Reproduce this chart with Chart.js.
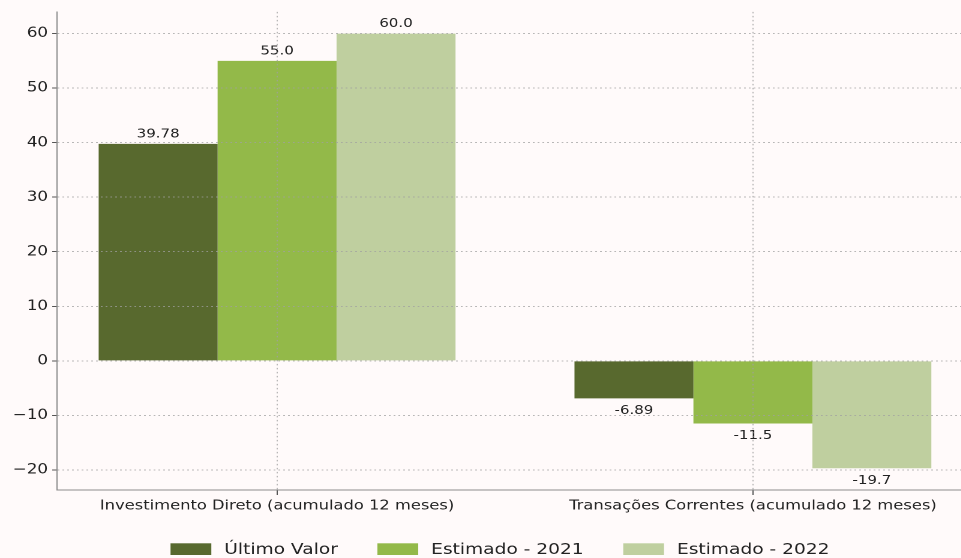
<!DOCTYPE html>
<html>
<head>
<meta charset="utf-8">
<script src="https://cdn.jsdelivr.net/npm/chart.js@4.4.0/dist/chart.umd.min.js"></script>
<style>
  html, body { margin: 0; padding: 0; background: #fffafa; overflow: hidden; }
  /* the reference is stretched horizontally, so the whole chart is too */
  #wrap { position: absolute; left: 0; top: 0; width: 833.33px; height: 558px; transform: scaleX(1.2); transform-origin: 0 0; }
</style>
</head>
<body>
<div id="wrap"><canvas id="chart"></canvas></div>
<script>
const CATEGORIES = ["Investimento Direto (acumulado 12 meses)", "Transações Correntes (acumulado 12 meses)"];
const SERIES_NAMES = ["Último Valor", "Estimado - 2021", "Estimado - 2022"];
const ULTIMO_VALOR = [39.78, -6.89];
const ESTIMADO_2021 = [55.0, -11.5];
const ESTIMADO_2022 = [60.0, -19.7];
const Y_TICKS = [-20, -10, 0, 10, 20, 30, 40, 50, 60];

const COLORS = ["#58692e", "#93b949", "#bfcf9f"];
const FONT = '"DejaVu Sans", sans-serif';
const TEXT = "#222222";

const fmt = (v) => (Number.isInteger(v) ? v.toFixed(1) : String(v));

const valueLabels = {
    id: "valueLabels",
    afterDatasetsDraw(chart) {
        const ctx = chart.ctx;
        ctx.save();
        ctx.font = `12.5px ${FONT}`;
        ctx.fillStyle = TEXT;
        ctx.textAlign = "center";
        ctx.textBaseline = "alphabetic";
        chart.data.datasets.forEach((ds, i) => {
            chart.getDatasetMeta(i).data.forEach((bar, j) => {
                const v = ds.data[j].y;
                const y = v >= 0 ? bar.y - 6.5 : bar.y + 15.5;
                ctx.fillText(fmt(v), bar.x, y);
            });
        });
        ctx.restore();
    },
};

const bottomLegend = {
    id: "bottomLegend",
    afterDraw(chart) {
        const ctx = chart.ctx;
        const boxW = 34, boxH = 11.7, gap = 10.8, colGap = 33;
        ctx.save();
        ctx.font = `15.5px ${FONT}`;
        const items = chart.data.datasets.map((ds) => ({
            text: ds.label,
            color: ds.backgroundColor,
            w: ctx.measureText(ds.label).width,
        }));
        const total = items.reduce((s, it) => s + boxW + gap + it.w, 0) + colGap * (items.length - 1);
        let x = chart.width / 2 - total / 2;
        ctx.textBaseline = "alphabetic";
        items.forEach((it) => {
            ctx.fillStyle = it.color;
            ctx.fillRect(x, 543.3, boxW, boxH);
            ctx.fillStyle = TEXT;
            ctx.fillText(it.text, x + boxW + gap, 554);
            x += boxW + gap + it.w + colGap;
        });
        ctx.restore();
    },
};

const toPoints = (values) => values.map((v, i) => ({ x: i, y: v }));

const gridOpts = {
    color: "rgba(160, 160, 160, 0.75)",
    lineWidth: 1,
    z: 1,
    offset: false,
    drawTicks: true,
    tickColor: "#555555",
    tickBorderDash: [],
};

new Chart(document.getElementById("chart"), {
    type: "bar",
    data: {
        datasets: [
            { label: SERIES_NAMES[0], data: toPoints(ULTIMO_VALOR), backgroundColor: COLORS[0] },
            { label: SERIES_NAMES[1], data: toPoints(ESTIMADO_2021), backgroundColor: COLORS[1] },
            { label: SERIES_NAMES[2], data: toPoints(ESTIMADO_2022), backgroundColor: COLORS[2] },
        ],
    },
    options: {
        responsive: true,
        maintainAspectRatio: false,
        animation: false,
        devicePixelRatio: 2,
        layout: { padding: { top: 10, right: 22.5, left: 0, bottom: 0 } },
        datasets: {
            bar: { categoryPercentage: 0.75, barPercentage: 1.0, borderWidth: 0 },
        },
        plugins: {
            legend: { display: false },
            tooltip: { enabled: false },
        },
        scales: {
            x: {
                type: "linear",
                offset: false,
                min: -0.4625,
                max: 1.4625,
                afterBuildTicks: (scale) => {
                    scale.ticks = CATEGORIES.map((_, i) => ({ value: i }));
                },
                afterFit: (scale) => {
                    scale.height = 68;
                },
                grid: { ...gridOpts, tickLength: 5 },
                border: { display: true, color: "#8c8c8c", width: 1, dash: [1.5, 2.5], z: 1 },
                ticks: {
                    autoSkip: false,
                    maxRotation: 0,
                    padding: 3,
                    color: TEXT,
                    font: { family: FONT, size: 13.6 },
                    callback: (value) => CATEGORIES[value] ?? "",
                },
            },
            y: {
                min: -23.685,
                max: 63.985,
                afterBuildTicks: (scale) => {
                    scale.ticks = Y_TICKS.map((v) => ({ value: v }));
                },
                afterFit: (scale) => {
                    scale.width = 47.5;
                },
                grid: { ...gridOpts, tickLength: 4 },
                border: { display: true, color: "#8c8c8c", width: 1, dash: [1.5, 2.5], z: 1 },
                ticks: {
                    padding: 3.5,
                    color: TEXT,
                    font: { family: FONT, size: 13.9 },
                    callback: (value) => String(value).replace("-", "\u2212"),
                },
            },
        },
    },
    plugins: [valueLabels, bottomLegend],
});
</script>
</body>
</html>
